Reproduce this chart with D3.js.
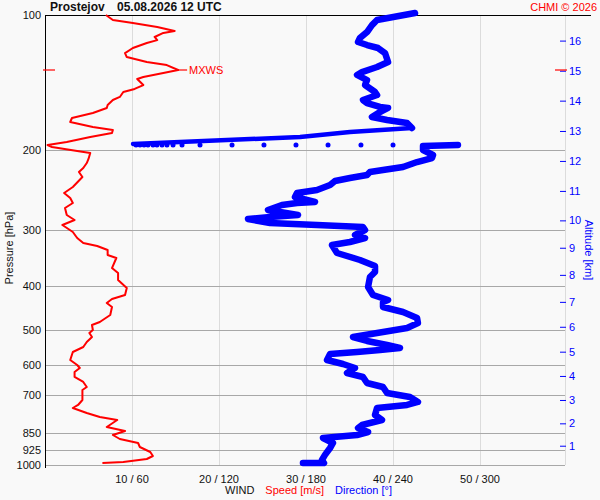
<!DOCTYPE html>
<html>
<head>
<meta charset="utf-8">
<script src="https://d3js.org/d3.v7.min.js"></script>
<style>
body{margin:0;background:#f9f9f9;}
svg{display:block;background:#f9f9f9;}
text{font-family:"Liberation Sans",Arial,sans-serif;font-size:11px;}
text.title{font-size:12px;font-weight:700;fill:#111;}
text.copy{fill:#ff0000;}
.grid-v line{stroke:#dcdcdc;shape-rendering:crispEdges;}
.grid-h line{stroke:#a8a8a8;shape-rendering:crispEdges;}
</style>
</head>
<body>
<script>
// ---- data ----
const station = "Prostejov";
const stamp = "05.08.2026 12 UTC";
const copyright = "CHMI \u00a9 2026";

const pressureTicks = [100, 200, 300, 400, 500, 600, 700, 850, 925, 1000];
const speedTicks = [10, 20, 30, 40, 50];
const dirTicks = [60, 120, 180, 240, 300];

// altitude ticks (km) and the pressure level where each one sits
const altKm = [1, 2, 3, 4, 5, 6, 7, 8, 9, 10, 11, 12, 13, 14, 15, 16];
const altPressure = [906, 808, 717, 634, 560, 493, 434, 378, 329, 286, 246, 211, 181, 155, 133, 114];

// wind speed [hPa, m/s]
const speedProfile = [
  [100,7.0],[102.6,7.8],[104.2,10.1],[106.3,12.9],[108.5,14.9],[109.6,13.6],[111.9,12.6],[113.7,12.9],
  [115.4,11.7],[118.4,10.1],[121.5,9.2],[124.0,9.4],[127.2,11.7],[129.2,14.0],[132.5,15.3],[134.6,13.6],
  [137.3,11.3],[138.7,10.6],[143.1,11.3],[146.0,10.3],[148.3,9.0],[152.1,8.6],[154.5,7.8],[158.5,7.2],
  [160.9,7.1],[165.1,5.5],[169.4,3.1],[172.9,2.9],[177.4,5.5],[180.1,7.8],[182.9,7.7],[186.7,5.2],
  [191.5,2.5],[194.5,0.3],[196.5,0.8],[200.6,3.7],[202.6,5.2],[208.9,5.0],[213.3,4.8],[218.8,4.4],
  [223.3,3.9],[229.1,4.3],[241.1,3.2],[248.6,2.2],[255.1,2.9],[261.7,3.2],[268.5,2.3],[278.3,2.5],
  [285.5,3.4],[292.9,2.0],[303.5,3.2],[313.0,3.7],[321.1,4.4],[326.1,6.0],[332.8,7.2],[341.5,7.2],
  [346.7,8.2],[365.0,7.7],[374.4,8.4],[388.1,8.4],[404.3,9.4],[419.0,9.2],[427.7,7.7],[436.5,7.1],
  [445.6,7.7],[464.2,7.5],[481.1,6.3],[488.5,5.4],[501.2,5.5],[509.0,5.1],[519.5,5.4],[532.9,4.8],
  [546.7,4.4],[560.9,3.2],[584.3,2.9],[599.5,3.7],[608.8,4.0],[621.4,3.4],[637.4,3.4],[653.9,4.4],
  [670.9,4.8],[681.3,4.3],[717.1,4.3],[735.6,3.8],[747.0,3.2],[766.4,4.8],[782.2,6.3],[794.3,8.3],
  [823.3,7.1],[840.3,9.2],[857.7,7.8],[875.4,8.6],[893.5,10.7],[912.0,10.9],[935.6,12.1],[955.0,12.4],
  [969.8,11.7],[984.8,9.0],[989.8,6.6]
];

// wind direction above the jump [hPa, deg]
const dirUpper = [
  [99,255.2],[102.6,229.0],[105.3,225.5],[109.1,222.1],[112.5,217.2],[114.8,215.9],[116.6,222.1],
  [118.4,229.7],[121.5,234.5],[127.2,236.6],[130.5,229.0],[133.9,218.6],[135.9,215.2],[139.5,222.1],
  [143.1,220.7],[148.3,227.6],[150.6,229.0],[154.5,219.3],[156.9,222.1],[160.1,231.0],[160.9,236.6],
  [164.3,231.0],[168.5,225.5],[171.1,235.9],[173.8,249.7],[178.3,253.1]
];

// fast turn just above the tropopause [hPa, deg]
const dirTurn = [
  [178.3,253.1],[182.0,210.3],[186.7,175.9],[193.5,60.7]
];

// single samples across the jump [hPa, deg]
const dirDots = [
  [194.5,62.8],[194.5,65.5],[194.5,68.3],[194.5,71.0],[194.5,74.5],[194.5,77.2],[194.5,80.7],
  [194.5,84.1],[194.5,88.3],[194.5,94.5],[194.5,106.9],[194.5,129.0],[194.5,151.0],[194.5,173.1],
  [194.5,195.2],[194.5,217.9],[194.5,240.0]
];

// wind direction below the jump [hPa, deg]
const dirLower = [
  [194.5,284.8],[195.5,260.7],[199.5,260.7],[204.7,267.6],[207.9,266.9],[212.2,256.6],[217.7,246.9],
  [221.0,233.1],[223.3,224.1],[226.8,222.1],[230.3,210.3],[233.8,200.0],[238.7,196.6],[244.8,187.6],
  [248.6,173.8],[253.8,172.4],[260.3,186.2],[261.7,173.8],[264.4,163.4],[271.2,153.8],[278.3,174.5],
  [281.1,155.2],[284.0,140.0],[289.9,155.2],[292.9,187.6],[295.9,219.3],[300.5,220.7],[308.2,213.8],
  [313.0,220.7],[319.5,210.3],[324.4,197.9],[338.0,201.4],[350.3,217.2],[361.2,227.6],[372.5,227.6],
  [382.2,224.1],[402.2,222.8],[419.0,226.2],[429.9,236.6],[434.3,233.1],[445.6,233.1],[457.1,246.9],
  [471.3,256.6],[483.6,257.2],[496.1,249.7],[509.0,229.0],[519.5,212.4],[530.2,222.1],[541.2,235.9],
  [549.5,244.8],[555.2,231.0],[560.9,215.2],[566.7,196.6],[584.3,194.5],[596.4,205.5],[608.8,213.8],
  [624.6,208.3],[637.4,219.3],[657.3,222.1],[670.9,233.1],[691.8,235.9],[706.2,251.7],[724.4,257.2],
  [735.6,249.7],[747.0,229.0],[774.3,227.6],[794.3,232.4],[814.9,218.6],[827.5,215.9],[844.7,222.8],
  [857.7,215.2],[871.0,191.7],[893.5,198.6],[916.7,196.6],[949.8,193.1],[974.7,191.0],[989.8,192.4],
  [989.8,177.9]
];

// ---- chart ----
const width = 600, height = 500;
const margin = {top: 15, right: 35, bottom: 35, left: 45};
const plotRight = width - margin.right;   // right axis line

const svg = d3.select("body").append("svg")
  .attr("width", width)
  .attr("height", height);

const y = d3.scaleLog()
  .domain([100, 1000])
  .range([margin.top, height - margin.bottom]);

const xSpeed = d3.scaleLinear()
  .domain([0, 60])
  .range([margin.left, plotRight + 2]);

const xDir = d3.scaleLinear()
  .domain([0, 360])
  .range(xSpeed.range());

const altScale = d3.scaleLinear()
  .domain(altKm)
  .range(altPressure.map(p => y(p)));

// vertical grid
svg.append("g").attr("class", "grid-v")
  .selectAll("line")
  .data(speedTicks)
  .join("line")
  .attr("x1", d => Math.round(xSpeed(d)) + 0.5)
  .attr("x2", d => Math.round(xSpeed(d)) + 0.5)
  .attr("y1", y(100))
  .attr("y2", y(1000));

// right axis line
svg.append("line")
  .attr("x1", plotRight + 0.5).attr("x2", plotRight + 0.5)
  .attr("y1", y(100)).attr("y2", y(1000))
  .attr("stroke", "#dcdcdc");

// horizontal grid
svg.append("g").attr("class", "grid-h")
  .selectAll("line")
  .data(pressureTicks.filter(p => p !== 100))
  .join("line")
  .attr("x1", margin.left)
  .attr("x2", plotRight)
  .attr("y1", d => Math.round(y(d)) + 0.5)
  .attr("y2", d => Math.round(y(d)) + 0.5);

// top border
svg.append("line")
  .attr("x1", margin.left).attr("x2", width - 9)
  .attr("y1", y(100) + 0.5).attr("y2", y(100) + 0.5)
  .attr("stroke", "#000");

// left axis line
svg.append("line")
  .attr("x1", margin.left + 0.5).attr("x2", margin.left + 0.5)
  .attr("y1", y(100)).attr("y2", y(1000) + 3)
  .attr("stroke", "#000");

// left pressure axis
const yAxis = svg.append("g")
  .attr("transform", `translate(${margin.left},0)`)
  .call(d3.axisLeft(y).tickValues(pressureTicks).tickFormat(d3.format("d")).tickSize(0).tickPadding(4));
yAxis.select(".domain").remove();
yAxis.selectAll("text")
  .attr("font-family", "Liberation Sans, Arial, sans-serif")
  .attr("font-size", 11)
  .attr("fill", "#111");

// right altitude axis
const altAxis = svg.append("g")
  .attr("transform", `translate(${plotRight - 5},0)`)
  .call(d3.axisRight(altScale).tickValues(altKm).tickFormat(d3.format("d")).tickSize(6).tickPadding(3));
altAxis.select(".domain").remove();
altAxis.selectAll("line").attr("stroke", "#0000ff");
altAxis.selectAll("text")
  .attr("font-family", "Liberation Sans, Arial, sans-serif")
  .attr("font-size", 11)
  .attr("fill", "#0000ff");

// bottom tick labels
svg.append("g")
  .selectAll("text")
  .data(speedTicks)
  .join("text")
  .attr("x", d => xSpeed(d))
  .attr("y", height - 17)
  .attr("text-anchor", "middle")
  .attr("fill", "#111")
  .text((d, i) => `${d} / ${dirTicks[i]}`);

// legend line
const legend = svg.append("text")
  .attr("x", 225)
  .attr("y", height - 6);
legend.append("tspan").attr("fill", "#111").text("WIND");
legend.append("tspan").attr("dx", 11).attr("fill", "#ff0000").text("Speed [m/s]");
legend.append("tspan").attr("dx", 11).attr("fill", "#0000ff").text("Direction [\u00b0]");

// axis titles
svg.append("text")
  .attr("transform", `translate(13,${(y(100) + y(1000)) / 2 + 8}) rotate(-90)`)
  .attr("text-anchor", "middle")
  .attr("fill", "#111")
  .text("Pressure [hPa]");

svg.append("text")
  .attr("transform", `translate(585,${(y(100) + y(1000)) / 2 + 10}) rotate(90)`)
  .attr("text-anchor", "middle")
  .attr("fill", "#0000ff")
  .text("Altitude [km]");

// title
svg.append("text").attr("class", "title").attr("x", 50).attr("y", 11).text(station);
svg.append("text").attr("class", "title").attr("x", 117).attr("y", 11).text(stamp);
svg.append("text").attr("class", "copy")
  .attr("x", width - 3).attr("y", 11)
  .attr("text-anchor", "end")
  .text(copyright);

// wind speed
const speedLine = d3.line()
  .x(d => xSpeed(d[1]))
  .y(d => y(d[0]));

svg.append("path")
  .datum(speedProfile)
  .attr("d", speedLine)
  .attr("fill", "none")
  .attr("stroke", "#ff0000")
  .attr("stroke-width", 2)
  .attr("stroke-linejoin", "round");

// max wind marker
const mx = d3.greatest(speedProfile, d => d[1]);
const my = y(mx[0]);
svg.append("line")
  .attr("x1", margin.left - 2).attr("x2", margin.left + 10)
  .attr("y1", my).attr("y2", my)
  .attr("stroke", "#ff0000").attr("stroke-width", 1.2);
svg.append("line")
  .attr("x1", plotRight - 10).attr("x2", plotRight + 2)
  .attr("y1", my).attr("y2", my)
  .attr("stroke", "#ff0000").attr("stroke-width", 1.2);
svg.append("line")
  .attr("x1", xSpeed(mx[1])).attr("x2", xSpeed(mx[1]) + 9)
  .attr("y1", my).attr("y2", my)
  .attr("stroke", "#ff0000").attr("stroke-width", 1.2);
svg.append("text")
  .attr("x", xSpeed(mx[1]) + 11)
  .attr("y", my)
  .attr("dy", "0.35em")
  .attr("font-size", 10)
  .attr("fill", "#ff0000")
  .text("MXWS");

// wind direction
const dirLine = d3.line()
  .x(d => xDir(d[1]))
  .y(d => y(d[0]));

svg.selectAll("path.dir")
  .data([dirUpper, dirLower])
  .join("path")
  .attr("class", "dir")
  .attr("d", dirLine)
  .attr("fill", "none")
  .attr("stroke", "#0000ff")
  .attr("stroke-width", 6.5)
  .attr("stroke-linejoin", "round")
  .attr("stroke-linecap", "round");

svg.append("path")
  .datum(dirTurn)
  .attr("d", dirLine)
  .attr("fill", "none")
  .attr("stroke", "#0000ff")
  .attr("stroke-width", 4.5)
  .attr("stroke-linejoin", "round")
  .attr("stroke-linecap", "round");

svg.selectAll("circle.dirDot")
  .data(dirDots)
  .join("circle")
  .attr("class", "dirDot")
  .attr("cx", d => xDir(d[1]))
  .attr("cy", d => y(d[0]))
  .attr("r", 2.5)
  .attr("fill", "#0000ff");
</script>
</body>
</html>
